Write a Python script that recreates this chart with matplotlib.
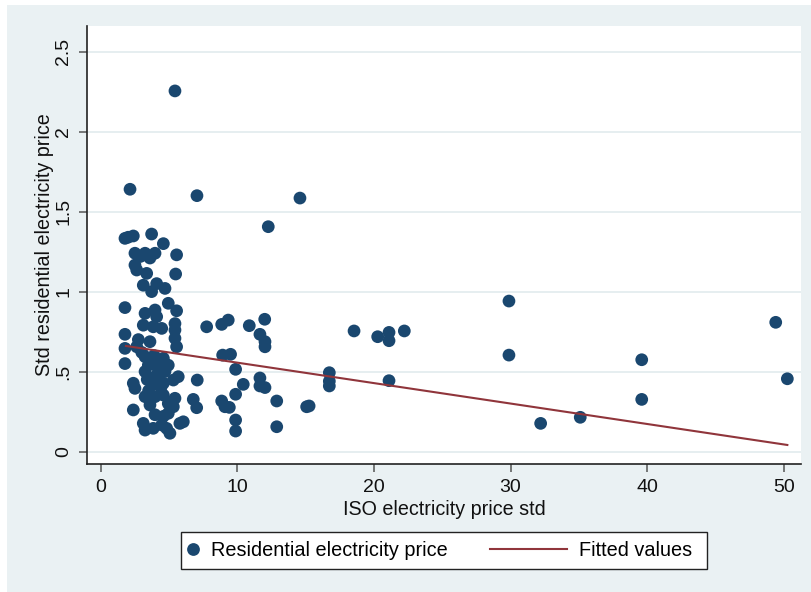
import matplotlib
matplotlib.use("Agg")
import matplotlib.pyplot as plt
from matplotlib.patches import Rectangle
from matplotlib.lines import Line2D
from matplotlib.legend_handler import HandlerLine2D

plt.rcParams['font.family'] = ['Liberation Sans', 'DejaVu Sans']

# ---- data ----
iso_std = [
    5.43, 2.14, 7.04, 14.58, 12.26, 7.75, 8.85, 9.33, 10.87, 12.0, 11.65, 12.02, 12.02,
    18.54, 20.27, 21.1, 21.1, 22.22, 29.88, 29.88, 21.1, 8.92, 9.5, 9.87, 7.06, 10.43,
    11.65, 11.65, 12.02, 9.87, 12.88, 15.07, 15.25, 16.73, 16.73, 16.73, 6.77, 7.02, 8.85, 9.09,
    9.41, 9.87, 9.87, 12.88, 32.2, 35.1, 39.6, 39.6, 49.41, 50.26,
    1.77, 2.0, 2.38, 3.72, 4.58, 2.5, 3.24, 3.97, 5.55, 2.9, 3.6,
    2.5, 2.63, 3.36, 5.48, 3.11, 4.09, 4.7, 3.72,
    1.77, 4.94, 5.55, 3.24, 3.97, 4.09, 3.11, 3.84, 4.46, 5.43,
    1.77, 5.43, 2.75, 3.6, 1.77, 2.63, 5.55, 5.43,
    1.77, 3.24, 3.48, 4.58, 4.94, 3.0, 3.8,
    3.24, 3.6, 4.09, 4.3, 4.58, 5.31, 5.67, 2.38, 2.5, 3.8,
    3.24, 3.97, 4.58, 5.43, 3.6, 4.94, 4.58, 3.97, 5.31, 4.94, 2.38,
    3.11, 3.24, 3.84, 4.82, 5.06, 5.79, 6.04, 4.46,
    3.5, 4.2, 3.9, 4.4, 3.4, 4.7,
]
res_std = [
    2.255, 1.64, 1.60, 1.585, 1.406, 0.78, 0.795, 0.822, 0.787, 0.827, 0.733, 0.687, 0.655,
    0.754, 0.718, 0.745, 0.693, 0.754, 0.941, 0.603, 0.443, 0.603, 0.608, 0.514, 0.447, 0.42,
    0.46, 0.41, 0.40, 0.358, 0.316, 0.28, 0.285, 0.493, 0.41, 0.44, 0.326, 0.274, 0.316, 0.28,
    0.276, 0.197, 0.128, 0.155, 0.176, 0.214, 0.574, 0.326, 0.808, 0.455,
    1.333, 1.34, 1.348, 1.36, 1.30, 1.24, 1.24, 1.24, 1.23, 1.22, 1.21,
    1.166, 1.135, 1.114, 1.11, 1.04, 1.05, 1.02, 1.0,
    0.90, 0.927, 0.88, 0.864, 0.885, 0.843, 0.79, 0.78, 0.77, 0.80,
    0.733, 0.76, 0.70, 0.687, 0.645, 0.655, 0.655, 0.708,
    0.55, 0.593, 0.54, 0.583, 0.54, 0.62, 0.56,
    0.50, 0.458, 0.478, 0.50, 0.427, 0.447, 0.468, 0.427, 0.395, 0.42,
    0.343, 0.343, 0.353, 0.333, 0.291, 0.30, 0.22, 0.23, 0.28, 0.239, 0.26,
    0.176, 0.134, 0.145, 0.145, 0.114, 0.176, 0.186, 0.166,
    0.38, 0.52, 0.60, 0.40, 0.45, 0.50,
]
fit_x = [1.84, 50.26]
fit_y = [0.66, 0.041]

x_ticks = [0, 10, 20, 30, 40, 50]
y_ticks = [0, 0.5, 1, 1.5, 2, 2.5]
y_tick_labels = ['0', '.5', '1', '1.5', '2', '2.5']

NAVY = '#1A476F'
MAROON = '#90353B'
BG = '#EAF1F3'
GRID = '#E2EBEE'

W, H = 811, 592
fig = plt.figure(figsize=(W / 100, H / 100), dpi=100, facecolor='white')
fig.patches.append(Rectangle((7 / W, 0), 1 - 7 / W, 1 - 5 / H, transform=fig.transFigure,
                             facecolor=BG, edgecolor='none', zorder=-10))

ax = fig.add_axes([87 / W, (H - 464) / H, (801 - 87) / W, (464 - 26) / H])
ax.set_facecolor('white')
ax.set_xlim(-1.01, 51.26)
ax.set_ylim(-0.078, 2.661)

for yv in y_ticks:
    ax.axhline(yv, color=GRID, lw=1.2, zorder=0)

ax.scatter(iso_std, res_std, s=84, color=NAVY, edgecolors='none', zorder=3,
           label='Residential electricity price')
ax.plot(fit_x, fit_y, color=MAROON, lw=1.5, zorder=4, label='Fitted values')

for side in ['top', 'right']:
    ax.spines[side].set_visible(False)
for side in ['left', 'bottom']:
    ax.spines[side].set_color('#222222')
    ax.spines[side].set_linewidth(1.2)

ax.set_xticks(x_ticks)
ax.set_yticks(y_ticks)
ax.set_yticklabels(y_tick_labels, rotation=90, va='center')
ax.tick_params(axis='both', direction='out', length=5.5, width=1.1, color='#555555',
               labelsize=14, labelcolor='#111111')
ax.tick_params(axis='x', pad=5)
ax.tick_params(axis='y', pad=5)

ax.set_xlabel('ISO electricity price std', fontsize=14.2, color='#111111', labelpad=3)
ax.set_ylabel('Std residential electricity price', fontsize=14.2, color='#111111', labelpad=1)


class LongLine(HandlerLine2D):
    def __init__(self, length_pt, **kw):
        super().__init__(**kw)
        self.length_pt = length_pt

    def legend_artist(self, legend, orig_handle, fontsize, handlebox):
        handlebox.width = self.length_pt
        return super().legend_artist(legend, orig_handle, fontsize, handlebox)


# legend frame (drawn as a box in figure pixels)
fig.patches.append(Rectangle((181 / W, (H - 569) / H), (707 - 181) / W, (569 - 532) / H,
                             transform=fig.transFigure, facecolor='white',
                             edgecolor='#222222', lw=1.0, zorder=5))

marker_h = Line2D([], [], marker='o', linestyle='none', markersize=9.2,
                  markerfacecolor=NAVY, markeredgecolor='none')
line_h = Line2D([], [], color=MAROON, lw=1.5)
leg = fig.legend([marker_h, line_h], ['Residential electricity price', 'Fitted values'],
                 loc='center', bbox_to_anchor=(439.5 / W, (H - 550.5) / H), ncol=2,
                 fontsize=14.3, frameon=False,
                 handlelength=0.6, handletextpad=0.6, columnspacing=2.15,
                 borderpad=0.0, borderaxespad=0.0, numpoints=1,
                 handler_map={line_h: LongLine(55.4)})
leg.set_zorder(6)

fig.savefig('out.png', dpi=100, facecolor=fig.get_facecolor())
